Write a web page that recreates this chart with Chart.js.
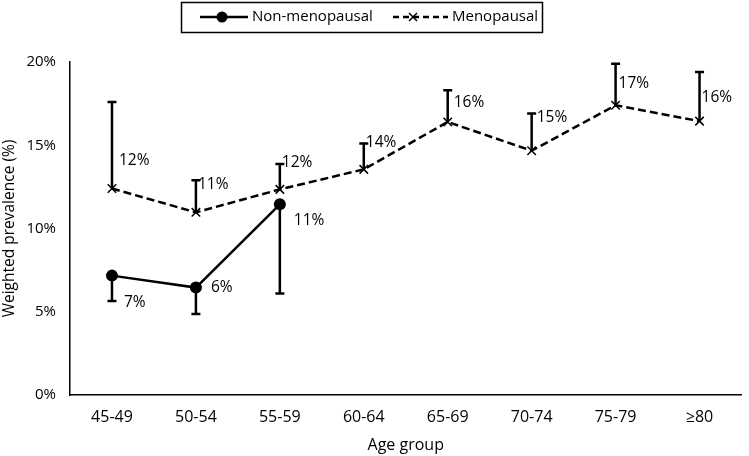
<!DOCTYPE html>
<html>
<head>
<meta charset="utf-8">
<script src="https://cdn.jsdelivr.net/npm/chart.js@4"></script>
<style>
  html, body { margin: 0; padding: 0; background: #fff; }
  #wrap { width: 749px; height: 456px; }
</style>
</head>
<body>
<div id="wrap"><canvas id="prevChart"></canvas></div>
<script>
// ====== Data ======
const ageGroups = ["45-49", "50-54", "55-59", "60-64", "65-69", "70-74", "75-79", "≥80"];
const nonMenopausal = [7.17, 6.45, 11.45, null, null, null, null, null];
const nonMenopausalLower = [5.65, 4.87, 6.1, null, null, null, null, null];
const nonMenopausalLabels = ["7%", "6%", "11%", "", "", "", "", ""];
const menopausal = [12.4, 10.97, 12.35, 13.55, 16.4, 14.67, 17.4, 16.45];
const menopausalUpper = [17.6, 12.9, 13.87, 15.1, 18.3, 16.9, 19.9, 19.4];
const menopausalLabels = ["12%", "11%", "12%", "14%", "16%", "15%", "17%", "16%"];
const yTicks = [0, 5, 10, 15, 20];

// label nudges (px, relative to the point)
const nonMenoNudge = [[12, 27], [15, 0], [14, 16]];
const menoNudge = [[7, -28], [2, -28], [2, -27], [2, -27], [6, -19], [5, -33], [3, -22], [2, -24]];

const FONT = "'Open Sans', sans-serif";
Chart.defaults.font.family = FONT;
Chart.defaults.color = "#000";

// error bars (one-sided) drawn from each point to its bound
const errorBars = {
  id: "errorBars",
  afterDatasetsDraw(chart) {
    const ctx = chart.ctx;
    const y = chart.scales.y;
    chart.data.datasets.forEach((ds, i) => {
      const meta = chart.getDatasetMeta(i);
      ds.errorTo.forEach((v, j) => {
        if (v == null) return;
        const pt = meta.data[j];
        const yEnd = y.getPixelForValue(v);
        ctx.save();
        ctx.strokeStyle = "#000";
        ctx.lineWidth = 2.5;
        ctx.beginPath();
        ctx.moveTo(pt.x, pt.y);
        ctx.lineTo(pt.x, yEnd);
        ctx.moveTo(pt.x - 4.5, yEnd);
        ctx.lineTo(pt.x + 4.5, yEnd);
        ctx.stroke();
        ctx.restore();
      });
    });
  }
};

// value labels
const valueLabels = {
  id: "valueLabels",
  afterDatasetsDraw(chart) {
    const ctx = chart.ctx;
    ctx.save();
    ctx.font = "15.5px " + FONT;
    ctx.fillStyle = "#000";
    ctx.textAlign = "left";
    ctx.textBaseline = "middle";
    chart.data.datasets.forEach((ds, i) => {
      const meta = chart.getDatasetMeta(i);
      ds.valueText.forEach((t, j) => {
        if (!t) return;
        const pt = meta.data[j];
        const n = ds.nudge[j];
        ctx.fillText(t, pt.x + n[0], pt.y + n[1]);
      });
    });
    ctx.restore();
  }
};

// boxed legend at the top
const boxLegend = {
  id: "boxLegend",
  afterDraw(chart) {
    const ctx = chart.ctx;
    ctx.save();
    ctx.strokeStyle = "#000";
    ctx.lineWidth = 1.5;
    ctx.strokeRect(181.5, 2.5, 361, 30);

    ctx.font = "15px " + FONT;
    ctx.fillStyle = "#000";
    ctx.textBaseline = "middle";

    // Non-menopausal
    ctx.lineWidth = 2.5;
    ctx.beginPath();
    ctx.moveTo(200, 17);
    ctx.lineTo(248, 17);
    ctx.stroke();
    ctx.beginPath();
    ctx.arc(222, 17, 5.5, 0, Math.PI * 2);
    ctx.fill();
    ctx.fillText("Non-menopausal", 252, 17);

    // Menopausal
    ctx.setLineDash([6, 4]);
    ctx.beginPath();
    ctx.moveTo(393, 17);
    ctx.lineTo(448, 17);
    ctx.stroke();
    ctx.setLineDash([]);
    ctx.lineWidth = 1.5;
    ctx.beginPath();
    ctx.moveTo(409, 13); ctx.lineTo(417, 21);
    ctx.moveTo(417, 13); ctx.lineTo(409, 21);
    ctx.stroke();
    ctx.fillText("Menopausal", 452, 17);
    ctx.restore();
  }
};

new Chart(document.getElementById("prevChart"), {
  type: "line",
  data: {
    labels: ageGroups,
    datasets: [
      {
        label: "Non-menopausal",
        data: nonMenopausal,
        errorTo: nonMenopausalLower,
        valueText: nonMenopausalLabels,
        nudge: nonMenoNudge,
        borderColor: "#000",
        backgroundColor: "#000",
        borderWidth: 2.5,
        pointStyle: "circle",
        pointRadius: 6,
        pointBorderWidth: 0,
        tension: 0,
      },
      {
        label: "Menopausal",
        data: menopausal,
        errorTo: menopausalUpper,
        valueText: menopausalLabels,
        nudge: menoNudge,
        borderColor: "#000",
        backgroundColor: "#000",
        borderWidth: 2.5,
        borderDash: [8, 4],
        pointStyle: "crossRot",
        pointRadius: 6,
        pointBorderWidth: 1.5,
        tension: 0,
      },
    ],
  },
  options: {
    responsive: true,
    maintainAspectRatio: false,
    animation: false,
    layout: { padding: { top: 62, right: 0, left: 0, bottom: 0 } },
    plugins: { legend: { display: false }, tooltip: { enabled: false } },
    scales: {
      x: {
        offset: true,
        grid: { display: false, drawTicks: false },
        border: { color: "#000", width: 1.5 },
        ticks: { padding: 13, font: { size: 16 }, maxRotation: 0 },
        title: { display: true, text: "Age group", font: { size: 16 }, padding: { top: 0, bottom: 1 } },
        afterFit(scale) { scale.height = 61; },
      },
      y: {
        min: 0,
        max: 20,
        afterBuildTicks(scale) { scale.ticks = yTicks.map(v => ({ value: v })); },
        grid: { display: false, drawTicks: false },
        border: { color: "#000", width: 1.5 },
        ticks: { padding: 14, font: { size: 15 }, callback: v => v + "%" },
        title: { display: true, text: "Weighted prevalence (%)", font: { size: 15.5 }, padding: { top: 0, bottom: 0 } },
        afterFit(scale) { scale.width = 70; },
      },
    },
  },
  plugins: [errorBars, valueLabels, boxLegend],
});
</script>
</body>
</html>
